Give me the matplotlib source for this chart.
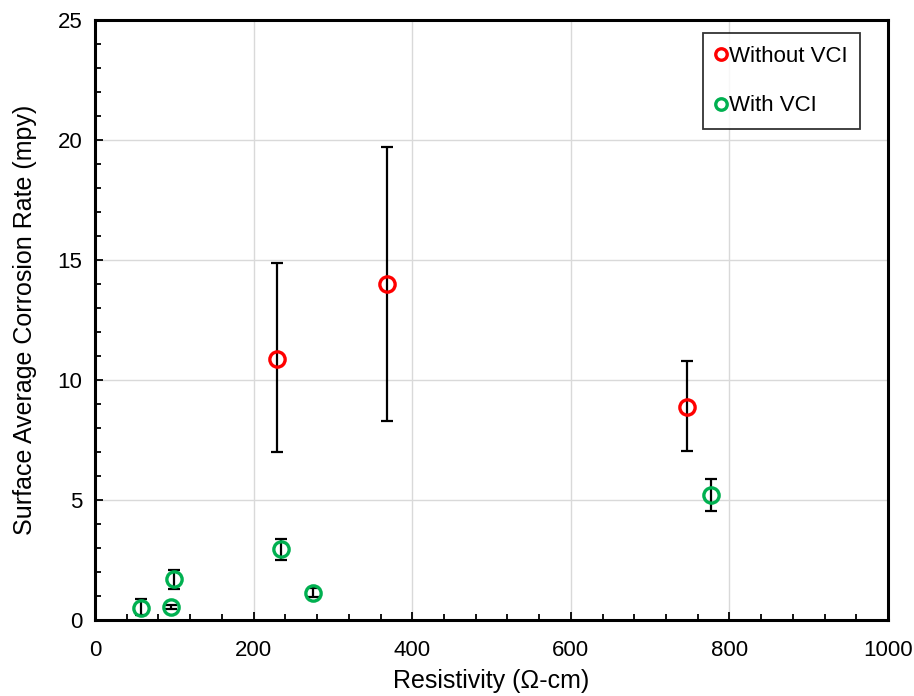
import numpy as np
import matplotlib
matplotlib.use("Agg")
import matplotlib.pyplot as plt
from matplotlib.ticker import MultipleLocator

plt.rcParams['font.family'] = ['Liberation Sans', 'DejaVu Sans']

# without VCI
res_no = [229, 368, 746]
rate_no = [10.9, 14.0, 8.9]
err_lo_no = [3.9, 5.7, 1.85]
err_hi_no = [4.0, 5.7, 1.9]

# with VCI
res_vci = [58, 96, 99, 235, 275, 777]
rate_vci = [0.5, 0.55, 1.7, 2.95, 1.15, 5.2]
err_lo_vci = [0.3, 0.1, 0.4, 0.45, 0.2, 0.65]
err_hi_vci = [0.4, 0.1, 0.4, 0.45, 0.2, 0.7]

fig = plt.figure(figsize=(9.14, 6.96), dpi=100)
ax = fig.add_axes([0.104, 0.109, 0.8676, 0.862])

ax.errorbar(res_no, rate_no, yerr=[err_lo_no, err_hi_no], fmt='none',
            ecolor='black', elinewidth=1.6, capsize=4, capthick=1.6, zorder=2)
ax.errorbar(res_vci, rate_vci, yerr=[err_lo_vci, err_hi_vci], fmt='none',
            ecolor='black', elinewidth=1.6, capsize=4, capthick=1.6, zorder=2)
ax.plot(res_no, rate_no, 'o', ms=11, mfc='none', mec='#ff0000', mew=2.4,
        label='Without VCI', zorder=3)
ax.plot(res_vci, rate_vci, 'o', ms=11, mfc='none', mec='#00b050', mew=2.4,
        label='With VCI', zorder=3)

ax.set_xlim(0, 1000)
ax.set_ylim(0, 25)
ax.xaxis.set_major_locator(MultipleLocator(200))
ax.xaxis.set_minor_locator(MultipleLocator(40))
ax.yaxis.set_major_locator(MultipleLocator(5))
ax.yaxis.set_minor_locator(MultipleLocator(1))
ax.tick_params(which='both', direction='in', labelsize=16, width=1.3)
ax.tick_params(which='major', length=6)
ax.tick_params(which='minor', length=4)
ax.tick_params(axis='x', which='major', pad=14)
ax.tick_params(axis='y', which='major', pad=9)
ax.grid(True, which='major', color='#d9d9d9', linewidth=1, zorder=0)
ax.set_axisbelow(True)
for s in ax.spines.values():
    s.set_linewidth(2.2)

ax.set_xlabel('Resistivity (Ω-cm)', fontsize=18, labelpad=6)
ax.set_ylabel('Surface Average Corrosion Rate (mpy)', fontsize=18, labelpad=15)

leg = ax.legend(loc='upper right', bbox_to_anchor=(0.965, 0.978), borderaxespad=0,
                fontsize=16, frameon=True, fancybox=False, edgecolor='black',
                handlelength=0.5, handletextpad=0.15, labelspacing=1.3,
                borderpad=0.55, markerscale=0.75)
leg.get_frame().set_linewidth(1.3)

fig.savefig('out.png', dpi=100)
